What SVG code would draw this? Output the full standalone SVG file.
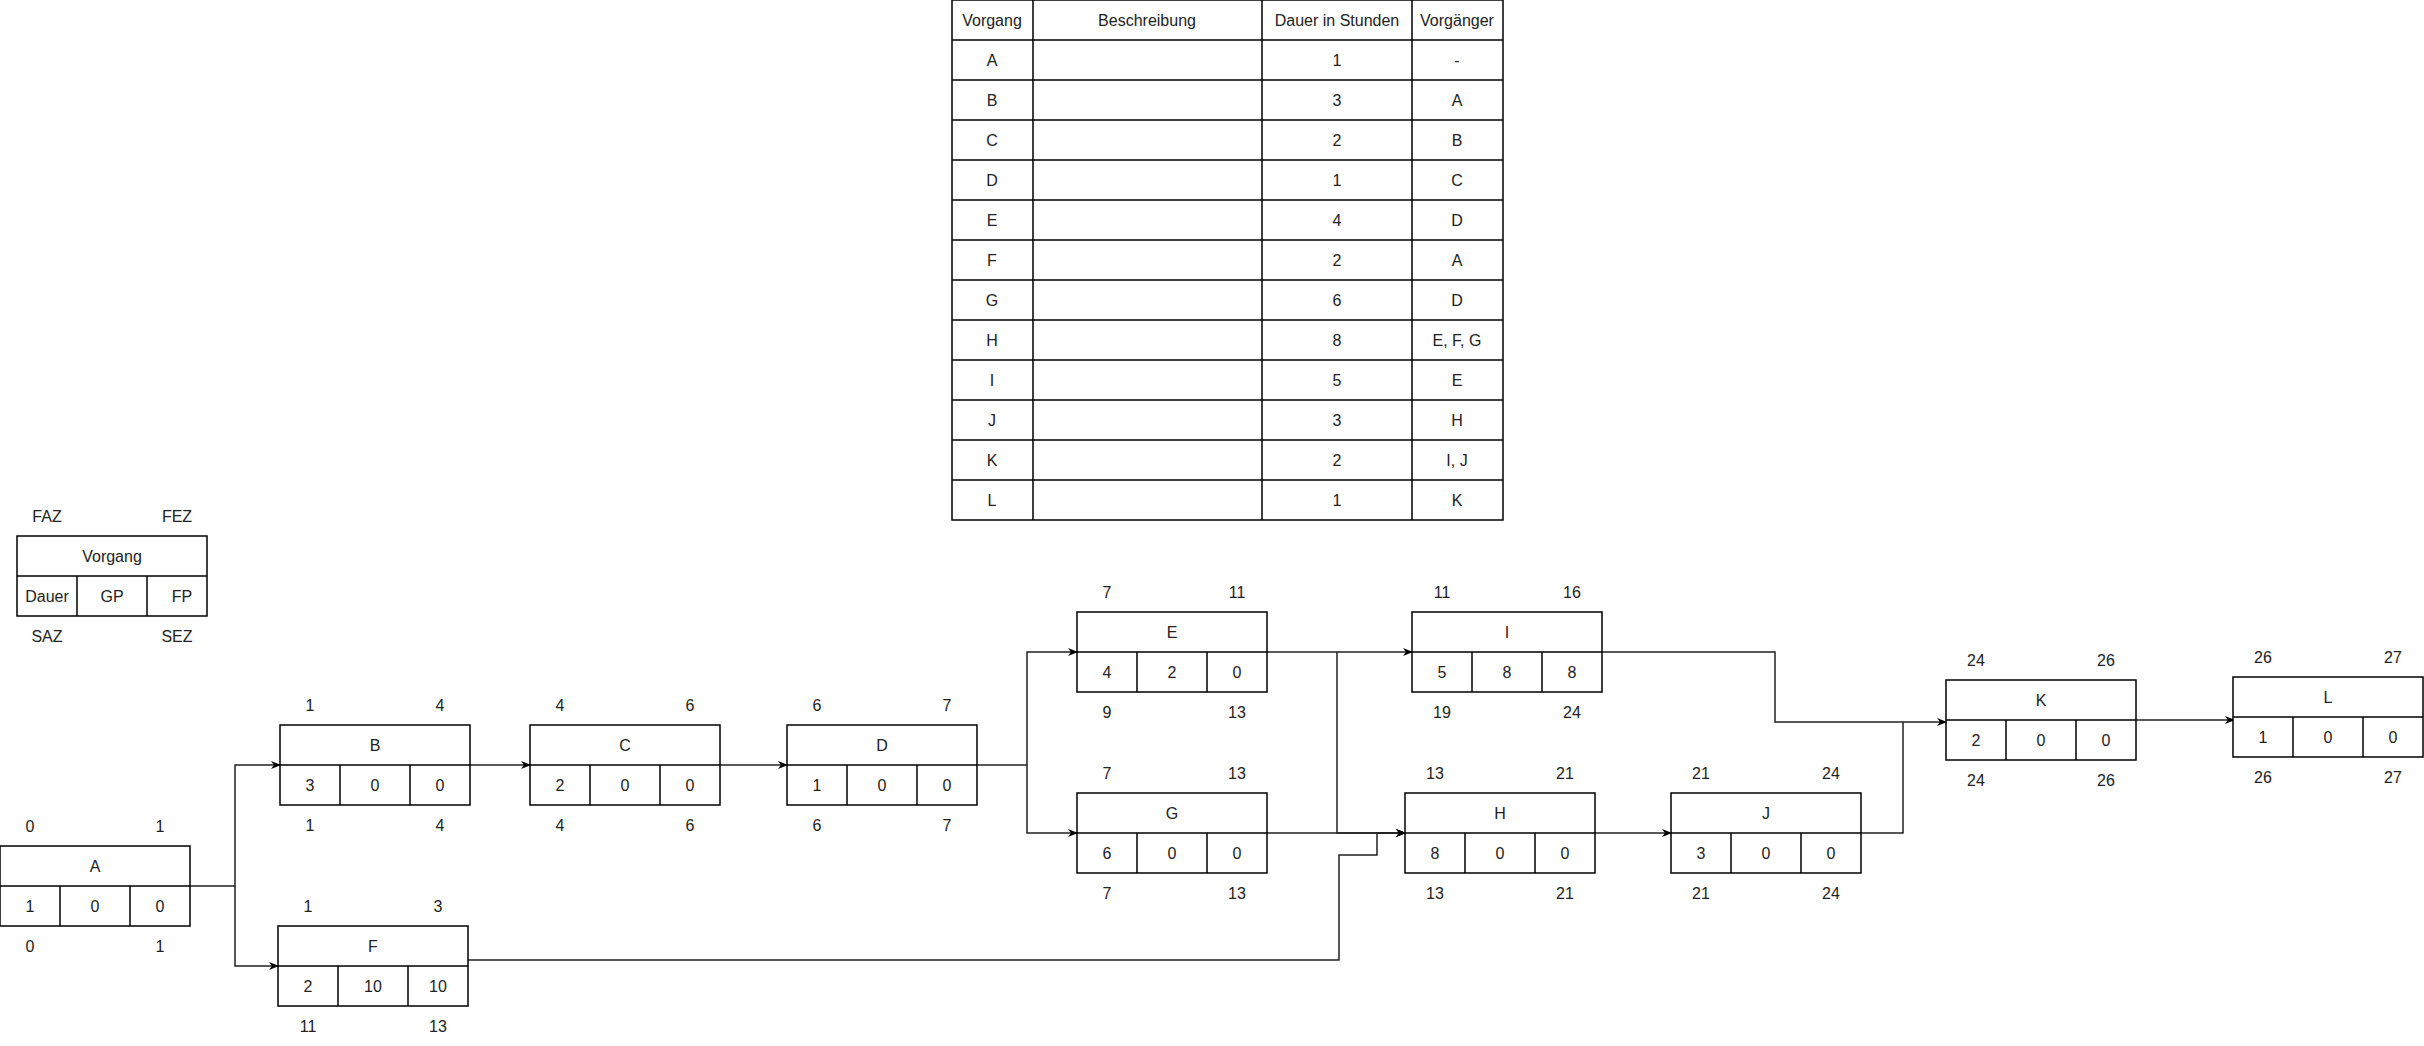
<svg xmlns="http://www.w3.org/2000/svg" width="2424" height="1046" viewBox="0 0 2424 1046">
<style>
text{font-family:"Liberation Sans",Arial,sans-serif;font-size:16px;fill:#222;text-anchor:middle;dominant-baseline:central}
.b{fill:#fff;stroke:#000;stroke-width:1.5}
.l{fill:none;stroke:#000;stroke-width:1.5}
.c{fill:none;stroke:#222;stroke-width:1.5;marker-end:url(#ah)}
.p{fill:none;stroke:#222;stroke-width:1.5}
</style>
<defs>
<marker id="ah" markerWidth="10" markerHeight="10" refX="9" refY="5" orient="auto" markerUnits="userSpaceOnUse"><path d="M0,1 L10,5 L0,9 L3,5 Z" fill="#000"/></marker>
<g id="box"><rect class="b" x="0" y="0" width="190" height="80"/><path class="l" d="M0,40H190M60,40V80M130,40V80"/></g>
</defs>
<rect width="2424" height="1046" fill="#fff"/>
<g id="table">
<rect class="b" x="952" y="0" width="551" height="520"/>
<path class="l" d="M1033,0V520M1262,0V520M1412,0V520M952,40H1503M952,80H1503M952,120H1503M952,160H1503M952,200H1503M952,240H1503M952,280H1503M952,320H1503M952,360H1503M952,400H1503M952,440H1503M952,480H1503"/>
<text x="992" y="20">Vorgang</text><text x="1147" y="20">Beschreibung</text><text x="1337" y="20">Dauer in Stunden</text><text x="1457" y="20">Vorgänger</text>
<g>
<text x="992" y="60">A</text><text x="1337" y="60">1</text><text x="1457" y="60">-</text>
<text x="992" y="100">B</text><text x="1337" y="100">3</text><text x="1457" y="100">A</text>
<text x="992" y="140">C</text><text x="1337" y="140">2</text><text x="1457" y="140">B</text>
<text x="992" y="180">D</text><text x="1337" y="180">1</text><text x="1457" y="180">C</text>
<text x="992" y="220">E</text><text x="1337" y="220">4</text><text x="1457" y="220">D</text>
<text x="992" y="260">F</text><text x="1337" y="260">2</text><text x="1457" y="260">A</text>
<text x="992" y="300">G</text><text x="1337" y="300">6</text><text x="1457" y="300">D</text>
<text x="992" y="340">H</text><text x="1337" y="340">8</text><text x="1457" y="340">E, F, G</text>
<text x="992" y="380">I</text><text x="1337" y="380">5</text><text x="1457" y="380">E</text>
<text x="992" y="420">J</text><text x="1337" y="420">3</text><text x="1457" y="420">H</text>
<text x="992" y="460">K</text><text x="1337" y="460">2</text><text x="1457" y="460">I, J</text>
<text x="992" y="500">L</text><text x="1337" y="500">1</text><text x="1457" y="500">K</text>
</g>
</g>
<g id="connectors">
<path class="c" d="M190,886H235V765H280"/>
<path class="c" d="M235,886V966H278"/>
<path class="c" d="M470,765H530"/>
<path class="c" d="M720,765H787"/>
<path class="c" d="M977,765H1027V652H1077"/>
<path class="c" d="M1027,765V833H1077"/>
<path class="c" d="M1267,652H1412"/>
<path class="p" d="M1137,651H1267" style="stroke-width:3"/>
<path class="c" d="M1337,652V833H1405"/>
<path class="c" d="M1267,833H1405"/>
<path class="c" d="M468,960H1339V855H1377V833H1405"/>
<path class="c" d="M1595,833H1671"/>
<path class="c" d="M1602,652H1775V722H1946"/>
<path class="p" d="M1861,833H1903V722"/>
<path class="c" d="M2136,720H2234"/>
</g>
<g id="legend">
<use href="#box" x="17" y="536"/>
<text x="112" y="556">Vorgang</text><text x="47" y="596">Dauer</text><text x="112" y="596">GP</text><text x="182" y="596">FP</text>
<text x="47" y="516">FAZ</text><text x="177" y="516">FEZ</text><text x="47" y="636">SAZ</text><text x="177" y="636">SEZ</text>
</g>
<g id="A"><use href="#box" x="0" y="846"/><text x="95" y="866">A</text><text x="30" y="906">1</text><text x="95" y="906">0</text><text x="160" y="906">0</text><text x="30" y="826">0</text><text x="160" y="826">1</text><text x="30" y="946">0</text><text x="160" y="946">1</text></g>
<g id="B"><use href="#box" x="280" y="725"/><text x="375" y="745">B</text><text x="310" y="785">3</text><text x="375" y="785">0</text><text x="440" y="785">0</text><text x="310" y="705">1</text><text x="440" y="705">4</text><text x="310" y="825">1</text><text x="440" y="825">4</text></g>
<g id="C"><use href="#box" x="530" y="725"/><text x="625" y="745">C</text><text x="560" y="785">2</text><text x="625" y="785">0</text><text x="690" y="785">0</text><text x="560" y="705">4</text><text x="690" y="705">6</text><text x="560" y="825">4</text><text x="690" y="825">6</text></g>
<g id="D"><use href="#box" x="787" y="725"/><text x="882" y="745">D</text><text x="817" y="785">1</text><text x="882" y="785">0</text><text x="947" y="785">0</text><text x="817" y="705">6</text><text x="947" y="705">7</text><text x="817" y="825">6</text><text x="947" y="825">7</text></g>
<g id="F"><use href="#box" x="278" y="926"/><text x="373" y="946">F</text><text x="308" y="986">2</text><text x="373" y="986">10</text><text x="438" y="986">10</text><text x="308" y="906">1</text><text x="438" y="906">3</text><text x="308" y="1026">11</text><text x="438" y="1026">13</text></g>
<g id="E"><use href="#box" x="1077" y="612"/><text x="1172" y="632">E</text><text x="1107" y="672">4</text><text x="1172" y="672">2</text><text x="1237" y="672">0</text><text x="1107" y="592">7</text><text x="1237" y="592">11</text><text x="1107" y="712">9</text><text x="1237" y="712">13</text></g>
<g id="G"><use href="#box" x="1077" y="793"/><text x="1172" y="813">G</text><text x="1107" y="853">6</text><text x="1172" y="853">0</text><text x="1237" y="853">0</text><text x="1107" y="773">7</text><text x="1237" y="773">13</text><text x="1107" y="893">7</text><text x="1237" y="893">13</text></g>
<g id="I"><use href="#box" x="1412" y="612"/><text x="1507" y="632">I</text><text x="1442" y="672">5</text><text x="1507" y="672">8</text><text x="1572" y="672">8</text><text x="1442" y="592">11</text><text x="1572" y="592">16</text><text x="1442" y="712">19</text><text x="1572" y="712">24</text></g>
<g id="H"><use href="#box" x="1405" y="793"/><text x="1500" y="813">H</text><text x="1435" y="853">8</text><text x="1500" y="853">0</text><text x="1565" y="853">0</text><text x="1435" y="773">13</text><text x="1565" y="773">21</text><text x="1435" y="893">13</text><text x="1565" y="893">21</text></g>
<g id="J"><use href="#box" x="1671" y="793"/><text x="1766" y="813">J</text><text x="1701" y="853">3</text><text x="1766" y="853">0</text><text x="1831" y="853">0</text><text x="1701" y="773">21</text><text x="1831" y="773">24</text><text x="1701" y="893">21</text><text x="1831" y="893">24</text></g>
<g id="K"><use href="#box" x="1946" y="680"/><text x="2041" y="700">K</text><text x="1976" y="740">2</text><text x="2041" y="740">0</text><text x="2106" y="740">0</text><text x="1976" y="660">24</text><text x="2106" y="660">26</text><text x="1976" y="780">24</text><text x="2106" y="780">26</text></g>
<g id="L"><use href="#box" x="2233" y="677"/><text x="2328" y="697">L</text><text x="2263" y="737">1</text><text x="2328" y="737">0</text><text x="2393" y="737">0</text><text x="2263" y="657">26</text><text x="2393" y="657">27</text><text x="2263" y="777">26</text><text x="2393" y="777">27</text></g>
</svg>
